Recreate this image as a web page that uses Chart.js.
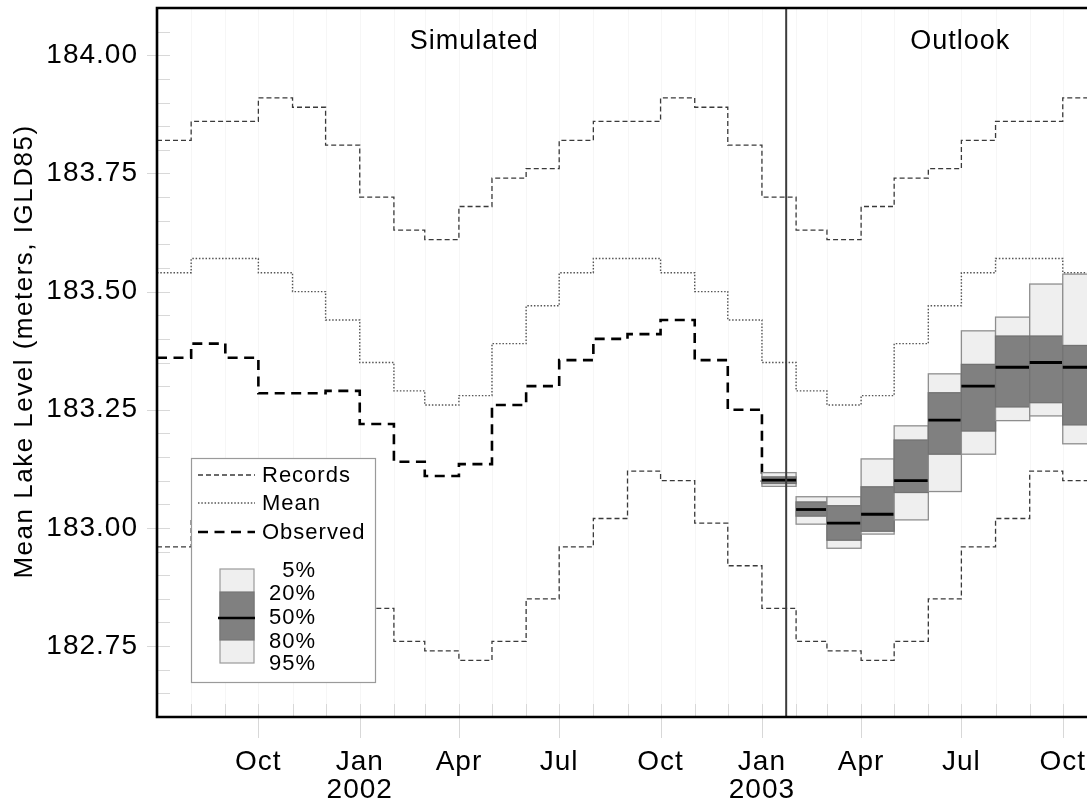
<!DOCTYPE html>
<html>
<head>
<meta charset="utf-8">
<script src="https://cdn.jsdelivr.net/npm/chart.js@4.4.1/dist/chart.umd.min.js"></script>
<style>
html,body{margin:0;padding:0;background:#fff;overflow:hidden}
canvas{display:block}
</style>
</head>
<body>
<canvas id="c" width="1087" height="803"></canvas>
<script>
// ---------------- DATA ----------------
const months = ['2001-07','2001-08','2001-09','2001-10','2001-11','2001-12',
  '2002-01','2002-02','2002-03','2002-04','2002-05','2002-06','2002-07','2002-08','2002-09','2002-10','2002-11','2002-12',
  '2003-01','2003-02','2003-03','2003-04','2003-05','2003-06','2003-07','2003-08','2003-09','2003-10'];

const recordsHigh = [183.82,183.86,183.86,183.91,183.89,183.81,
  183.70,183.63,183.61,183.68,183.74,183.76,183.82,183.86,183.86,183.91,183.89,183.81,
  183.70,183.63,183.61,183.68,183.74,183.76,183.82,183.86,183.86,183.91];

const recordsLow = [182.96,183.02,183.12,183.10,183.01,182.92,
  182.83,182.76,182.74,182.72,182.76,182.85,182.96,183.02,183.12,183.10,183.01,182.92,
  182.83,182.76,182.74,182.72,182.76,182.85,182.96,183.02,183.12,183.10];

const meanLevel = [183.54,183.57,183.57,183.54,183.50,183.44,
  183.35,183.29,183.26,183.28,183.39,183.47,183.54,183.57,183.57,183.54,183.50,183.44,
  183.35,183.29,183.26,183.28,183.39,183.47,183.54,183.57,183.57,183.54];

const observedMonths = ['2001-07','2001-08','2001-09','2001-10','2001-11','2001-12',
  '2002-01','2002-02','2002-03','2002-04','2002-05','2002-06','2002-07','2002-08','2002-09','2002-10','2002-11','2002-12','2003-01'];
const observed = [183.36,183.39,183.36,183.285,183.285,183.29,
  183.22,183.14,183.11,183.135,183.26,183.30,183.355,183.40,183.41,183.44,183.355,183.25,183.10];

const outlookMonths = ['2003-01','2003-02','2003-03','2003-04','2003-05','2003-06','2003-07','2003-08','2003-09','2003-10'];
const p5  = [183.117,183.066,183.066,183.146,183.216,183.326,183.417,183.446,183.516,183.537];
const p20 = [183.108,183.055,183.047,183.087,183.186,183.286,183.346,183.406,183.406,183.386];
const p50 = [183.101,183.039,183.010,183.029,183.100,183.228,183.300,183.340,183.350,183.340];
const p80 = [183.094,183.025,182.974,182.993,183.075,183.156,183.205,183.256,183.265,183.218];
const p95 = [183.088,183.008,182.957,182.987,183.017,183.077,183.156,183.227,183.237,183.178];

const xTickMonths = ['2001-10','2002-01','2002-04','2002-07','2002-10','2003-01','2003-04','2003-07','2003-10'];
const xTickLabels = [['Oct'],['Jan','2002'],['Apr'],['Jul'],['Oct'],['Jan','2003'],['Apr'],['Jul'],['Oct']];
const yTickValues = [182.75,183.00,183.25,183.50,183.75,184.00];

const legendLines = ['Records','Mean','Observed'];
const legendPct = ['5%','20%','50%','80%','95%'];
const annotTexts = ['Simulated','Outlook'];
const annotMonths = ['2002-04','2003-07'];
const annotDayOffset = [14, -1];
const annotLevel = 184.03;
const separatorDate = '2003-01-23';
const yTitle = 'Mean Lake Level (meters, IGLD85)';

// ---------------- HELPERS ----------------
const ORIGIN = Date.UTC(2001, 6, 1);
function day(ym) { const p = ym.split('-').map(Number); return (Date.UTC(p[0], p[1]-1, p[2] || 1) - ORIGIN) / 86400000; }
function nextMonth(ym) { let [yy, mm] = ym.split('-').map(Number); mm++; if (mm > 12) { mm = 1; yy++; } return yy + '-' + String(mm).padStart(2,'0'); }
function stepPoints(ms, vals) {
  const pts = ms.map((m, i) => ({x: day(m), y: vals[i]}));
  pts.push({x: day(nextMonth(ms[ms.length-1])), y: vals[vals.length-1]});
  return pts;
}
const FONT = "'Liberation Sans', Arial, Helvetica, sans-serif";
const X_MAX = 844;
const Y_MIN = 182.60, Y_MAX = 184.10;

const overlay = {
  id: 'overlay',
  beforeDraw(chart) { chart.ctx.letterSpacing = '1px'; },
  beforeDatasetsDraw(chart) {
    const {ctx, chartArea: a, scales: {x, y}} = chart;
    ctx.save();
    ctx.strokeStyle = '#d8d8d8';
    ctx.lineWidth = 1;
    const allMonths = months.concat([nextMonth(months[months.length-1])]);
    allMonths.forEach(m => {
      const px = Math.round(x.getPixelForValue(day(m))) + 0.5;
      if (px <= a.left + 2 || px > a.right) return;
      const major = xTickMonths.includes(m);
      ctx.beginPath();
      ctx.moveTo(px, a.bottom - 13);
      ctx.lineTo(px, major ? a.bottom + 21 : a.bottom);
      ctx.stroke();
      ctx.save(); ctx.strokeStyle = '#f6f6f6';
      ctx.beginPath(); ctx.moveTo(px, a.top); ctx.lineTo(px, a.bottom - 13); ctx.stroke();
      ctx.restore();
    });
    for (let k = 0; k <= 30; k++) {
      const v = Y_MIN + k * 0.05;
      const py = Math.round(y.getPixelForValue(v)) + 0.5;
      if (py <= a.top + 2 || py >= a.bottom - 2) continue;
      const major = yTickValues.some(t => Math.abs(t - v) < 1e-6);
      ctx.beginPath();
      ctx.moveTo(major ? a.left - 10 : a.left, py);
      ctx.lineTo(a.left + 13, py);
      ctx.stroke();
    }
    ctx.restore();
  },
  afterDatasetsDraw(chart) {
    const {ctx, chartArea: a, scales: {x, y}} = chart;
    ctx.save();
    ctx.beginPath(); ctx.rect(a.left, a.top, a.right - a.left, a.bottom - a.top); ctx.clip();
    outlookMonths.forEach((m, i) => {
      const x0 = x.getPixelForValue(day(m)), x1 = x.getPixelForValue(day(nextMonth(m)));
      const yA = y.getPixelForValue(p5[i]), yB = y.getPixelForValue(p20[i]);
      const yC = y.getPixelForValue(p50[i]), yD = y.getPixelForValue(p80[i]);
      const yE = y.getPixelForValue(p95[i]);
      ctx.fillStyle = '#efefef';
      ctx.fillRect(x0, yA, x1 - x0, yE - yA);
      ctx.strokeStyle = '#8e8e8e'; ctx.lineWidth = 1.3;
      ctx.strokeRect(x0, yA, x1 - x0, yE - yA);
      ctx.fillStyle = '#808080';
      ctx.fillRect(x0, yB, x1 - x0, yD - yB);
      ctx.strokeStyle = '#727272';
      ctx.strokeRect(x0, yB, x1 - x0, yD - yB);
      ctx.strokeStyle = '#000'; ctx.lineWidth = 2.8;
      ctx.beginPath(); ctx.moveTo(x0, yC); ctx.lineTo(x1, yC); ctx.stroke();
    });
    const sx = x.getPixelForValue(day(separatorDate));
    ctx.strokeStyle = '#3c3c3c'; ctx.lineWidth = 2;
    ctx.beginPath(); ctx.moveTo(sx, a.top); ctx.lineTo(sx, a.bottom); ctx.stroke();
    ctx.fillStyle = '#000';
    ctx.font = '27px ' + FONT;
    ctx.textAlign = 'center'; ctx.textBaseline = 'middle';
    annotTexts.forEach((t, i) => {
      ctx.fillText(t, x.getPixelForValue(day(annotMonths[i]) + annotDayOffset[i]), y.getPixelForValue(annotLevel));
    });
    ctx.restore();

    // legend
    ctx.save();
    const L = a.left + 34, T = a.top + 450, W = 184, H = 224;
    ctx.fillStyle = '#fff'; ctx.fillRect(L, T, W, H);
    ctx.strokeStyle = '#9a9a9a'; ctx.lineWidth = 1.2; ctx.strokeRect(L + 0.5, T + 0.5, W, H);
    const styles = chart.data.datasets;
    const rowY = [T + 17, T + 45, T + 74];
    const dsIdx = [0, 2, 3];
    legendLines.forEach((t, i) => {
      const ds = styles[dsIdx[i]];
      ctx.save();
      ctx.strokeStyle = ds.borderColor; ctx.lineWidth = ds.borderWidth; ctx.setLineDash(ds.borderDash);
      ctx.beginPath(); ctx.moveTo(L + 7, rowY[i]); ctx.lineTo(L + 64, rowY[i]); ctx.stroke();
      ctx.restore();
      ctx.fillStyle = '#000'; ctx.font = '22px ' + FONT;
      ctx.textAlign = 'left'; ctx.textBaseline = 'middle';
      ctx.fillText(t, L + 71, rowY[i] + 1);
    });
    const sxL = L + 29, sw = 34;
    ctx.fillStyle = '#efefef'; ctx.fillRect(sxL, T + 111, sw, 94);
    ctx.strokeStyle = '#9a9a9a'; ctx.lineWidth = 1.2; ctx.strokeRect(sxL, T + 111, sw, 94);
    ctx.fillStyle = '#808080'; ctx.fillRect(sxL, T + 134, sw, 48);
    ctx.strokeStyle = '#777'; ctx.strokeRect(sxL, T + 134, sw, 48);
    ctx.strokeStyle = '#000'; ctx.lineWidth = 2.6;
    ctx.beginPath(); ctx.moveTo(sxL - 2, T + 160); ctx.lineTo(sxL + sw + 1, T + 160); ctx.stroke();
    const pctY = [T + 113, T + 136, T + 160, T + 184, T + 206];
    ctx.fillStyle = '#000'; ctx.font = '22px ' + FONT;
    ctx.textAlign = 'right'; ctx.textBaseline = 'middle';
    legendPct.forEach((t, i) => ctx.fillText(t, L + 125, pctY[i]));
    ctx.restore();

    // frame
    ctx.save();
    ctx.strokeStyle = '#000'; ctx.lineWidth = 2.6;
    ctx.beginPath();
    ctx.moveTo(chart.width + 5, a.top); ctx.lineTo(a.left, a.top);
    ctx.lineTo(a.left, a.bottom); ctx.lineTo(chart.width + 5, a.bottom);
    ctx.stroke();
    ctx.restore();

    // y title
    ctx.save();
    ctx.letterSpacing = '1.5px';
    ctx.translate(25, (a.top + a.bottom) / 2 - 11);
    ctx.rotate(-Math.PI / 2);
    ctx.fillStyle = '#000'; ctx.font = '26px ' + FONT;
    ctx.textAlign = 'center'; ctx.textBaseline = 'middle';
    ctx.fillText(yTitle, 0, 0);
    ctx.restore();
  }
};

const lineBase = {pointRadius: 0, fill: false, stepped: 'before', tension: 0};
new Chart(document.getElementById('c'), {
  type: 'line',
  data: {
    datasets: [
      Object.assign({label: 'Records', data: stepPoints(months, recordsHigh), borderColor: '#3a3a3a', borderWidth: 1.3, borderDash: [5, 3]}, lineBase),
      Object.assign({label: 'Records (low)', data: stepPoints(months, recordsLow), borderColor: '#3a3a3a', borderWidth: 1.3, borderDash: [5, 3]}, lineBase),
      Object.assign({label: 'Mean', data: stepPoints(months, meanLevel), borderColor: '#555', borderWidth: 1.4, borderDash: [1.5, 1.8]}, lineBase),
      Object.assign({label: 'Observed', data: stepPoints(observedMonths, observed), borderColor: '#000', borderWidth: 2.6, borderDash: [10, 6.5]}, lineBase)
    ]
  },
  options: {
    responsive: false, animation: false, devicePixelRatio: 1, events: [],
    layout: {padding: {top: 8, right: 0, left: 0, bottom: 0}},
    plugins: {legend: {display: false}, tooltip: {enabled: false}},
    scales: {
      x: {
        type: 'linear', min: 0, max: X_MAX,
        grid: {display: false, drawTicks: false}, border: {display: false},
        afterBuildTicks: s => { s.ticks = xTickMonths.map(m => ({value: day(m)})); },
        afterFit: s => { s.height = 86; s.paddingLeft = 0; s.paddingRight = 0; },
        ticks: {autoSkip: false, maxRotation: 0, minRotation: 0, padding: 31, color: '#000',
          font: {family: FONT, size: 28, lineHeight: 1.0},
          callback: (v, i) => xTickLabels[i]}
      },
      y: {
        type: 'linear', min: Y_MIN, max: Y_MAX,
        grid: {display: false, drawTicks: false}, border: {display: false},
        afterBuildTicks: s => { s.ticks = yTickValues.map(v => ({value: v})); },
        afterFit: s => { s.width = 157; s.paddingTop = 0; s.paddingBottom = 0; },
        ticks: {padding: 19, color: '#000', font: {family: FONT, size: 28},
          callback: v => Number(v).toFixed(2)}
      }
    }
  },
  plugins: [overlay]
});
</script>
</body>
</html>
